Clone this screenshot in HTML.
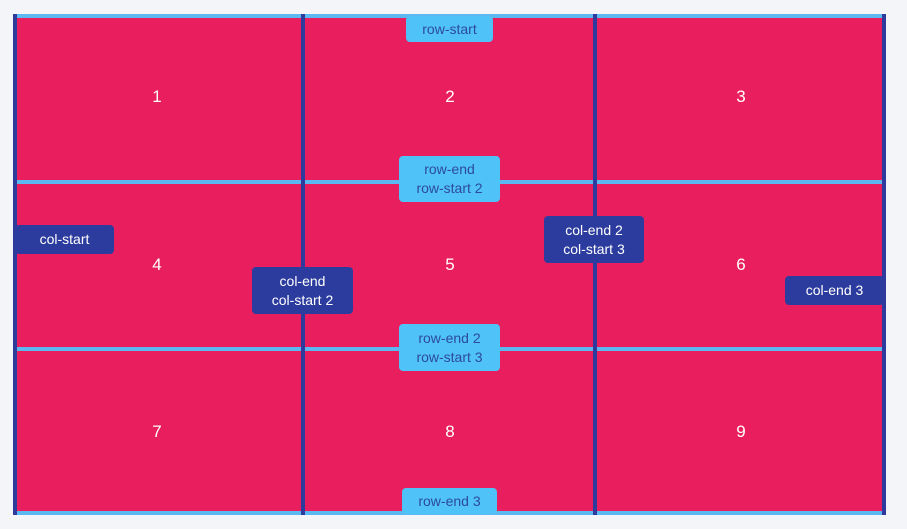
<!DOCTYPE html>
<html><head><style>
html,body{margin:0;padding:0;}
body{width:907px;height:529px;background:#f4f5f9;position:relative;overflow:hidden;font-family:"Liberation Sans",sans-serif;}
.a{position:absolute;}
.red{background:#e91e5e;}
.h{background:#5cb8f0;height:4px;}
.v{background:#2e3a9c;width:4px;}
.n{position:absolute;color:#fff;font-size:17px;transform:translate(-50%,-50%);}
.lb{position:absolute;background:#4fc3f7;color:#2d4a9a;font-size:14px;line-height:19px;text-align:center;border-radius:4px;display:flex;align-items:center;justify-content:center;}
.db{position:absolute;background:#2c3c9e;color:#fff;font-size:14px;line-height:19px;text-align:center;border-radius:4px;display:flex;align-items:center;justify-content:center;}
</style></head><body>
<div class="a red" style="left:15px;top:15px;width:870px;height:498px;"></div>
<div class="a h" style="left:15px;top:14px;width:870px;"></div>
<div class="a h" style="left:15px;top:180px;width:870px;"></div>
<div class="a h" style="left:15px;top:347px;width:870px;"></div>
<div class="a h" style="left:15px;top:511px;width:870px;"></div>
<div class="a v" style="left:13px;top:14px;height:501px;"></div>
<div class="a v" style="left:301px;top:14px;height:501px;"></div>
<div class="a v" style="left:593px;top:14px;height:501px;"></div>
<div class="a v" style="left:882px;top:14px;height:501px;"></div>
<div class="n" style="left:157px;top:97px;">1</div>
<div class="n" style="left:450px;top:97px;">2</div>
<div class="n" style="left:741px;top:97px;">3</div>
<div class="n" style="left:157px;top:265px;">4</div>
<div class="n" style="left:450px;top:265px;">5</div>
<div class="n" style="left:741px;top:265px;">6</div>
<div class="n" style="left:157px;top:432px;">7</div>
<div class="n" style="left:450px;top:432px;">8</div>
<div class="n" style="left:741px;top:432px;">9</div>
<div class="lb" style="left:406px;top:16px;width:87px;height:26px;">row-start</div>
<div class="lb" style="left:399px;top:156px;width:101px;height:46px;">row-end<br>row-start 2</div>
<div class="lb" style="left:399px;top:324px;width:101px;height:47px;">row-end 2<br>row-start 3</div>
<div class="lb" style="left:402px;top:488px;width:95px;height:26px;">row-end 3</div>
<div class="db" style="left:15px;top:225px;width:99px;height:29px;">col-start</div>
<div class="db" style="left:252px;top:267px;width:101px;height:47px;">col-end<br>col-start 2</div>
<div class="db" style="left:544px;top:216px;width:100px;height:47px;">col-end 2<br>col-start 3</div>
<div class="db" style="left:785px;top:276px;width:99px;height:29px;">col-end 3</div>
</body></html>
